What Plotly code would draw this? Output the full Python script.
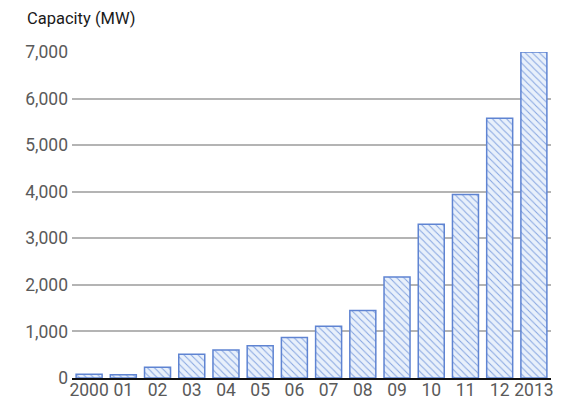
import plotly.graph_objects as go

years = ["2000", "01", "02", "03", "04", "05", "06", "07", "08", "09", "10", "11", "12", "2013"]
capacity_mw = [80, 70, 230, 510, 600, 690, 870, 1110, 1450, 2170, 3300, 3940, 5580, 7000]
y_ticks = [0, 1000, 2000, 3000, 4000, 5000, 6000, 7000]
y_tick_labels = ["0", "1,000", "2,000", "3,000", "4,000", "5,000", "6,000", "7,000"]

FONT = "Roboto, 'Noto Sans', sans-serif"

# the page body has an 8px default margin, so the figure is offset by (8, 8)
W, H = 568, 401

fig = go.Figure(
    go.Bar(
        x=years,
        y=capacity_mw,
        marker=dict(
            color="#e3edfa",
            line=dict(color="#5f84d2", width=1.5),
            pattern=dict(shape="\\", fgcolor="#86a5e0", bgcolor="#e8f0fb",
                         size=5, solidity=0.2, fillmode="replace"),
        ),
        cliponaxis=False,
    )
)

fig.update_layout(
    width=W,
    height=H,
    margin=dict(l=64, r=25, t=44, b=31, autoexpand=False),
    paper_bgcolor="white",
    plot_bgcolor="white",
    bargap=0.24,
    showlegend=False,
    title=dict(
        text="Capacity (MW)",
        xref="container", yref="container",
        x=19 / W, xanchor="left",
        y=1 - 10 / H, yanchor="middle",
        automargin=False,
        font=dict(family=FONT, size=16.5, color="#1a1a1a"),
    ),
    xaxis=dict(
        type="category",
        automargin=False,
        showgrid=False,
        showline=True,
        linecolor="#111111",
        linewidth=1.5,
        ticks="",
        tickfont=dict(family=FONT, size=17.5, color="#5a5a5a"),
        ticklabelstandoff=-5,
    ),
    yaxis=dict(
        automargin=False,
        range=[0, 7000],
        tickvals=y_ticks,
        ticktext=y_tick_labels,
        showgrid=True,
        gridcolor="#b4b4b4",
        gridwidth=1.5,
        zeroline=False,
        showline=False,
        ticks="",
        tickfont=dict(family=FONT, size=17.5, color="#5a5a5a"),
        ticklabelstandoff=3,
    ),
)

fig.write_html("out.html")
